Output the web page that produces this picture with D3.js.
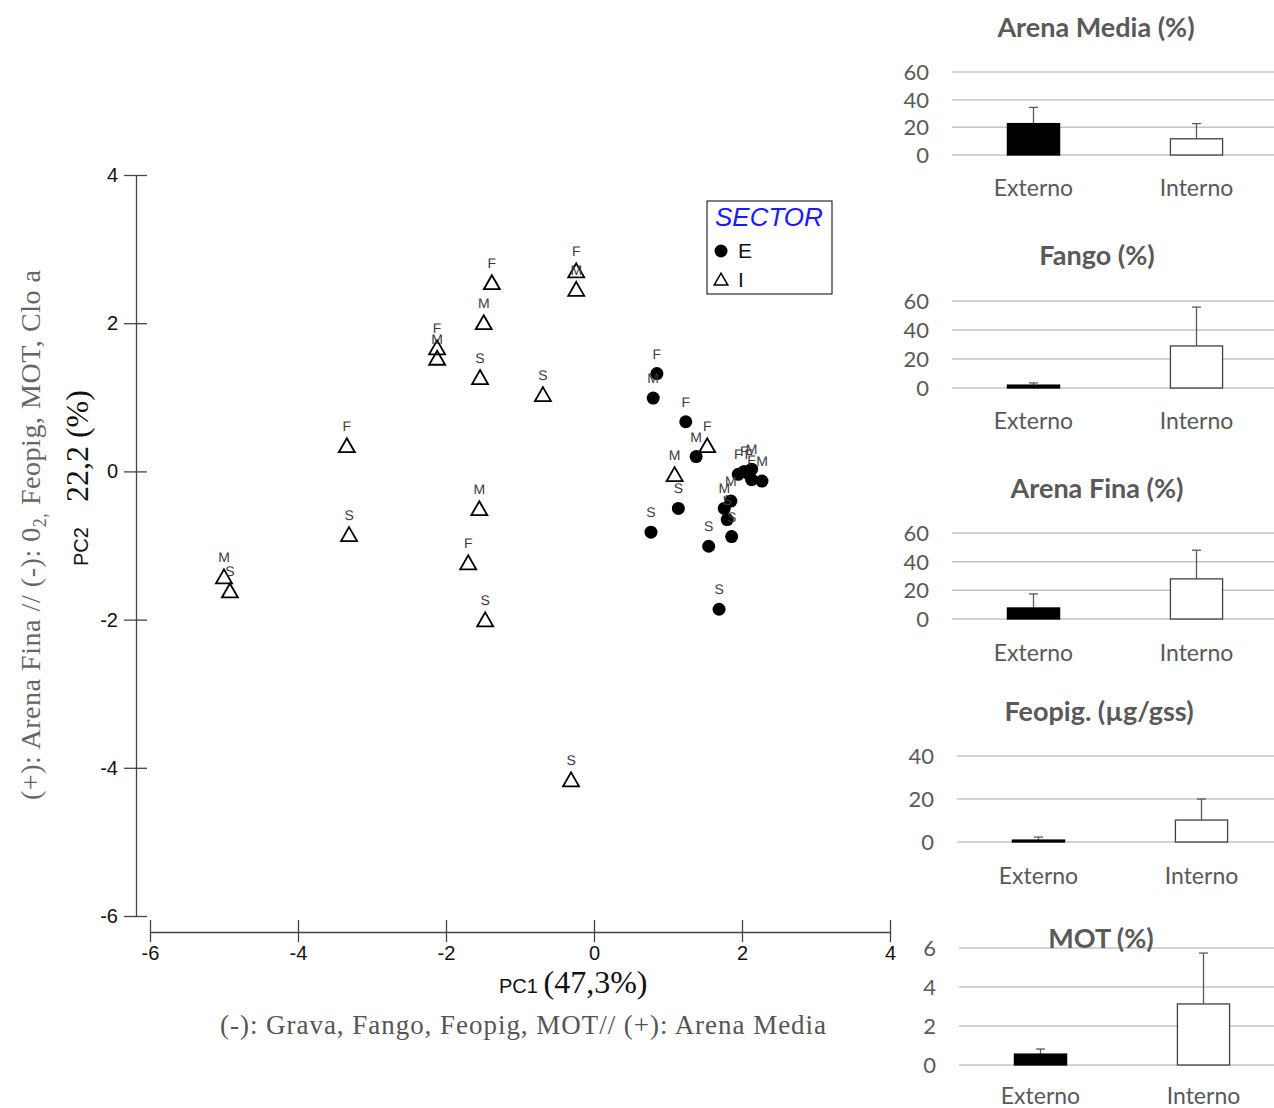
<!DOCTYPE html>
<html><head><meta charset="utf-8">
<script src="https://cdn.jsdelivr.net/npm/d3@7"></script>
<style>body{margin:0;background:#fff}svg{display:block}</style>
</head><body>
<script>
// ---------- PCA data ----------
const ePC1   = [0.85, 1.24, 1.95, 2.03, 2.09, 2.13, 0.80, 1.38, 1.85, 1.76, 2.13, 2.27, 1.14, 0.77, 1.55, 1.69, 1.80, 1.86];
const ePC2   = [1.32, 0.67, -0.04, 0.00, -0.03, -0.11, 0.99, 0.20, -0.40, -0.50, 0.03, -0.13, -0.50, -0.82, -1.01, -1.86, -0.65, -0.88];
const eDepth = ["F","F","F","F","F","F","M","M","M","M","M","M","S","S","S","S","S","S"];
const iPC1   = [-3.34, -2.12, -1.38, -0.24, -1.70, 1.53, -5.00, -2.12, -1.49, -0.24, -1.55, 1.09, -4.92, -3.31, -1.54, -0.69, -1.47, -0.31];
const iPC2   = [0.34, 1.66, 2.54, 2.70, -1.24, 0.34, -1.43, 1.52, 2.00, 2.45, -0.51, -0.05, -1.62, -0.86, 1.26, 1.03, -2.01, -4.17];
const iDepth = ["F","F","F","F","F","F","M","M","M","M","M","M","S","S","S","S","S","S"];
const pcTicks = [-6, -4, -2, 0, 2, 4];
const legendItems = ["E", "I"];

// ---------- bar chart data ----------
const barTitles = ["Arena Media (%)", "Fango (%)", "Arena Fina (%)", "Feopig. (µg/gss)", "MOT (%)"];
const barCategories = ["Externo", "Interno"];
const barMeans = [[22.7, 11.7], [2.0, 29.0], [7.7, 28.0], [0.9, 10.2], [0.56, 3.13]];
const barSD    = [[11.7, 11.0], [1.5, 26.8], [9.8, 20.0], [1.4, 9.8], [0.26, 2.61]];
const barTicks = [[0, 20, 40, 60], [0, 20, 40, 60], [0, 20, 40, 60], [0, 20, 40], [0, 2, 4, 6]];

const W = 1274, H = 1108;
const svg = d3.select("body").append("svg").attr("width", W).attr("height", H);

// ================= scatter =================
const x = d3.scaleLinear().domain([-6, 4]).range([150, 890]);
const y = d3.scaleLinear().domain([-6, 4]).range([916, 175]);
const axisColor = "#444";
const sans = "'Liberation Sans', Arial, sans-serif";
const serif = "'Liberation Serif', 'Times New Roman', serif";
const fmt = d => String(d);

// y axis
const yAxis = svg.append("g").attr("transform", "translate(136,0)")
  .call(d3.axisLeft(y).tickValues(pcTicks).tickFormat(fmt).tickSize(0).tickPadding(18));
yAxis.select(".domain").attr("stroke", axisColor).attr("stroke-width", 1.3);
yAxis.selectAll(".tick").append("line").attr("x1", -12).attr("x2", 11).attr("stroke", axisColor).attr("stroke-width", 1.3);
yAxis.selectAll("text").attr("font-family", sans).attr("font-size", 20).attr("fill", "#111");

// x axis
const xAxis = svg.append("g").attr("transform", "translate(0,932)")
  .call(d3.axisBottom(x).tickValues(pcTicks).tickFormat(fmt).tickSize(0).tickPadding(14));
xAxis.select(".domain").attr("stroke", axisColor).attr("stroke-width", 1.3);
xAxis.selectAll(".tick").append("line").attr("y1", -12).attr("y2", 10).attr("stroke", axisColor).attr("stroke-width", 1.3);
xAxis.selectAll("text").attr("font-family", sans).attr("font-size", 20).attr("fill", "#111");

const triPath = "M0,-8L8,6L-8,6Z";
const eData = ePC1.map((v, i) => ({x: v, y: ePC2[i], d: eDepth[i]}));
const iData = iPC1.map((v, i) => ({x: v, y: iPC2[i], d: iDepth[i]}));

// markers
svg.append("g").selectAll("path").data(iData).join("path")
  .attr("d", triPath).attr("transform", d => `translate(${x(d.x)},${y(d.y)})`)
  .attr("fill", "none").attr("stroke", "#000").attr("stroke-width", 1.8);
svg.append("g").selectAll("circle").data(eData).join("circle")
  .attr("cx", d => x(d.x)).attr("cy", d => y(d.y)).attr("r", 6.5).attr("fill", "#000");
// labels
const labG = svg.append("g").attr("font-family", sans).attr("font-size", 14).attr("fill", "#3a3a3a")
  .attr("text-anchor", "middle").style("text-rendering", "geometricPrecision");
[...iData, ...eData].forEach(p => {
  labG.append("text").attr("x", x(p.x)).attr("y", y(p.y) - 15).text(p.d);
});

// legend
const lg = svg.append("g");
lg.append("rect").attr("x", 707).attr("y", 201).attr("width", 125).attr("height", 93)
  .attr("fill", "#fff").attr("stroke", "#000").attr("stroke-width", 1);
lg.append("text").attr("x", 715).attr("y", 226).attr("font-family", sans).attr("font-style", "italic")
  .attr("font-size", 26).attr("fill", "#1a1aff").text("SECTOR");
lg.append("circle").attr("cx", 721).attr("cy", 251).attr("r", 6.5).attr("fill", "#000");
lg.append("path").attr("d", triPath).attr("transform", "translate(721,280) scale(0.85)")
  .attr("fill", "none").attr("stroke", "#000").attr("stroke-width", 1.8);
legendItems.forEach((t, i) => {
  lg.append("text").attr("x", 738).attr("y", 258 + i * 29).attr("font-family", sans)
    .attr("font-size", 21).attr("fill", "#111").text(t);
});

// axis titles
const xt = svg.append("text").attr("x", 499).attr("y", 993).attr("fill", "#111");
xt.append("tspan").attr("font-family", sans).attr("font-size", 20).text("PC1 ");
xt.append("tspan").attr("font-family", serif).attr("font-size", 32).text("(47,3%)");

svg.append("text").attr("x", 523).attr("y", 1034).attr("text-anchor", "middle")
  .attr("font-family", serif).attr("font-size", 27).attr("fill", "#555")
  .attr("textLength", 606).attr("lengthAdjust", "spacing")
  .text("(-): Grava, Fango, Feopig, MOT// (+): Arena Media");

const yt = svg.append("text").attr("transform", "translate(88,566) rotate(-90)").attr("fill", "#111");
yt.append("tspan").attr("font-family", sans).attr("font-size", 20).text("PC2");
yt.append("tspan").attr("dx", 25).attr("font-family", serif).attr("font-size", 32).text("22,2 (%)");

const yt2 = svg.append("text").attr("transform", "translate(40,800) rotate(-90)")
  .attr("font-family", serif).attr("font-size", 28).attr("fill", "#666")
  .attr("textLength", 530).attr("lengthAdjust", "spacing");
yt2.append("tspan").text("(+): Arena Fina // (-): 0");
yt2.append("tspan").attr("font-size", 18).attr("dy", 6).text("2,");
yt2.append("tspan").attr("dy", -6).text(" Feopig, MOT, Clo a");

// ================= bar panels =================
const panelLayout = [
  {left: 952, y0: 155, yTop: 72,  title: 37,  cat: 196, cx: 1096},
  {left: 952, y0: 388, yTop: 301, title: 265, cat: 429, cx: 1097},
  {left: 952, y0: 619, yTop: 533, title: 498, cat: 661, cx: 1097},
  {left: 957, y0: 842, yTop: 756, title: 721, cat: 884, cx: 1099},
  {left: 959, y0: 1065, yTop: 948, title: 948, cat: 1104, cx: 1101}
];
const cal = "Lato, 'Open Sans', sans-serif";
const txtGray = "#595959";
barTitles.forEach((title, k) => {
  const L = panelLayout[k];
  const g = svg.append("g");
  const ticks = barTicks[k];
  const ys = d3.scaleLinear().domain([0, d3.max(ticks)]).range([L.y0, L.yTop]);
  const xs = d3.scaleBand().domain(barCategories).range([L.left, L.left + 326]);
  const bw = xs.bandwidth() * 0.32;
  // grid
  g.selectAll("line.grid").data(ticks).join("line")
    .attr("x1", L.left).attr("x2", W).attr("y1", d => ys(d)).attr("y2", d => ys(d))
    .attr("stroke", "#c4c4c4").attr("stroke-width", 1.5);
  g.selectAll("text.tick").data(ticks).join("text")
    .attr("x", L.left - 23).attr("y", d => ys(d)).attr("dy", "0.36em").attr("text-anchor", "end")
    .attr("font-family", cal).attr("font-size", 22).attr("fill", txtGray).text(d => d);
  // error bars
  barCategories.forEach((c, j) => {
    const cx = xs(c) + xs.bandwidth() / 2;
    const m = barMeans[k][j], s = barSD[k][j];
    g.append("line").attr("x1", cx).attr("x2", cx).attr("y1", ys(m)).attr("y2", ys(m + s))
      .attr("stroke", txtGray).attr("stroke-width", 1.3);
    g.append("line").attr("x1", cx - 4.5).attr("x2", cx + 4.5).attr("y1", ys(m + s)).attr("y2", ys(m + s))
      .attr("stroke", txtGray).attr("stroke-width", 1.3);
    g.append("rect").attr("x", cx - bw / 2).attr("width", bw)
      .attr("y", ys(m)).attr("height", ys(0) - ys(m))
      .attr("fill", j === 0 ? "#000" : "#fff").attr("stroke", j === 0 ? "#000" : "#404040").attr("stroke-width", 1.3);
    g.append("text").attr("x", cx).attr("y", L.cat).attr("text-anchor", "middle")
      .attr("font-family", cal).attr("font-size", 23).attr("fill", txtGray).text(c);
  });
  g.append("text").attr("x", L.cx).attr("y", L.title).attr("text-anchor", "middle")
    .attr("font-family", cal).attr("font-weight", "bold").attr("font-size", 27).attr("fill", txtGray).text(title);
});
</script>
</body></html>
